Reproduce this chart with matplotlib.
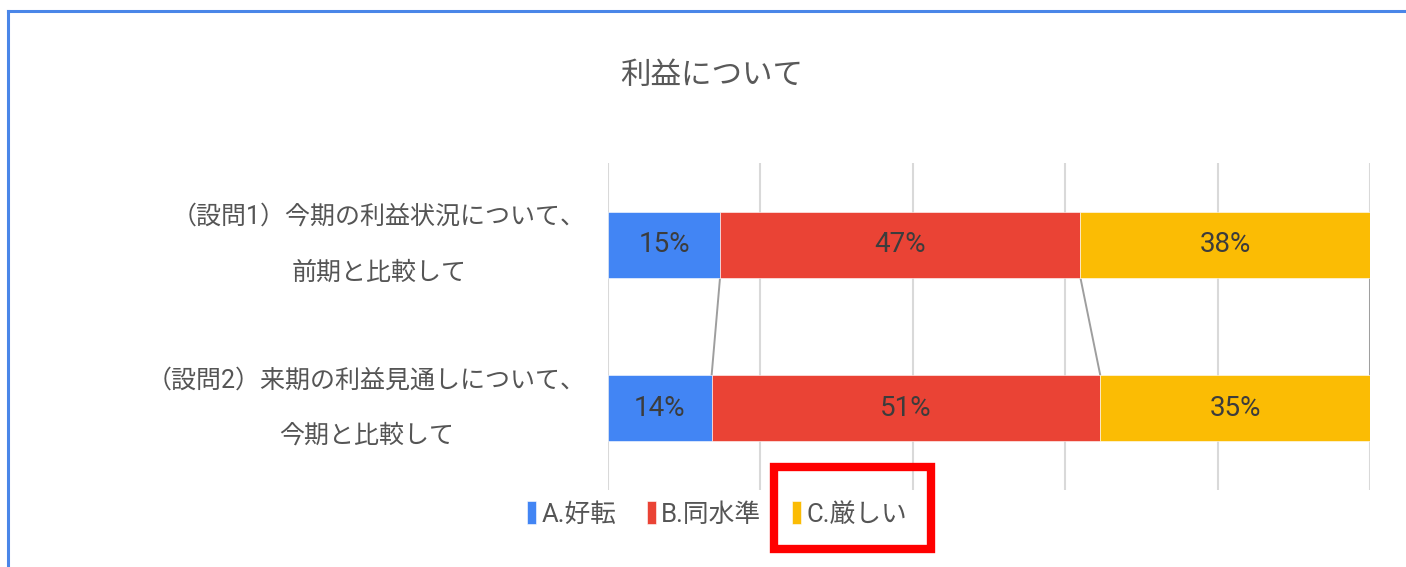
import matplotlib
matplotlib.use("Agg")
import matplotlib.pyplot as plt
from matplotlib.patches import Rectangle
from matplotlib.lines import Line2D

plt.rcParams["font.family"] = ["Roboto", "Noto Sans CJK JP", "DejaVu Sans"]

TITLE = "利益について"
QUESTIONS = [
    "（設問1）今期の利益状況について、\n前期と比較して",
    "（設問2）来期の利益見通しについて、\n今期と比較して",
]
SERIES = ["A.好転", "B.同水準", "C.厳しい"]
# share of answers (%) per question, one list per series
A_GOOD = [14.7, 13.6]
B_SAME = [47.3, 51.0]
C_HARD = [38.0, 35.4]
COLORS = ["#4285F4", "#EA4335", "#FBBC04"]
HIGHLIGHT = "C.厳しい"

W, H = 1406, 567
fig = plt.figure(figsize=(W / 100, H / 100), dpi=100)
ax = fig.add_axes([608 / W, 1 - 490 / H, 762 / W, 327 / H])

bar_h = 0.405
ypos = list(range(len(QUESTIONS)))
left = [0.0] * len(QUESTIONS)
bounds = []
for name, vals, col in zip(SERIES, [A_GOOD, B_SAME, C_HARD], COLORS):
    ax.barh(ypos, vals, left=left, height=bar_h, color=col,
            edgecolor="white", linewidth=0.4, label=name, zorder=3)
    for y, l, v in zip(ypos, left, vals):
        ax.text(l + v / 2, y, f"{v:.0f}%", ha="center", va="center",
                fontsize=20, color="#3c3c3c", zorder=4)
    left = [l + v for l, v in zip(left, vals)]
    bounds.append(list(left))

# series lines between the stacked bars
for b in bounds:
    for i in range(len(ypos) - 1):
        ax.plot([b[i], b[i + 1]], [ypos[i] + bar_h / 2, ypos[i + 1] - bar_h / 2],
                color="#9e9e9e", linewidth=1.4, zorder=2)

ax.set_xlim(0, 100)
ax.set_ylim(len(QUESTIONS) - 0.5, -0.5)
ax.set_xticks(range(0, 101, 20))
ax.xaxis.grid(True, color="#d9d9d9", linewidth=1.5, zorder=0)
ax.tick_params(axis="x", length=0, labelbottom=False)
ax.tick_params(axis="y", length=0, pad=16)
ax.set_yticks(ypos)
ax.set_yticklabels(QUESTIONS, fontsize=18, color="#555555",
                   multialignment="center", linespacing=2.65)
for t in ax.get_yticklabels():
    t.set_verticalalignment("center")
for s in ax.spines.values():
    s.set_visible(False)

fig.text(712 / W, 1 - 75 / H, TITLE, ha="center", va="center",
         fontsize=22, color="#595959")

leg = fig.legend(loc="center", bbox_to_anchor=(717 / W, 1 - 514 / H), ncol=3,
                 frameon=False, fontsize=18.5, handlelength=0.35, handleheight=1.0,
                 handletextpad=0.2, columnspacing=1.2, labelcolor="#555555")

# red highlight box around one legend entry
fig.canvas.draw()
r = fig.canvas.get_renderer()
idx = SERIES.index(HIGHLIGHT)
tb = leg.get_texts()[idx].get_window_extent(r)
hb = leg.legend_handles[idx].get_window_extent(r)
x0, x1 = hb.x0 - 18, tb.x1 + 24
y0, y1 = tb.y0 - 22, tb.y1 + 36
fig.add_artist(Rectangle((x0 / W, y0 / H), (x1 - x0) / W, (y1 - y0) / H,
                         transform=fig.transFigure, fill=False,
                         edgecolor="#FF0000", linewidth=6))

# chart frame (blue), running off the right and bottom edges
fig.add_artist(Line2D([8 / W, 1.01], [1 - 11 / H] * 2, transform=fig.transFigure,
                      color="#4a86e8", linewidth=2.2))
fig.add_artist(Line2D([8 / W] * 2, [-0.01, 1 - 11 / H], transform=fig.transFigure,
                      color="#4a86e8", linewidth=2.2))

fig.savefig("out.png", dpi=100)
